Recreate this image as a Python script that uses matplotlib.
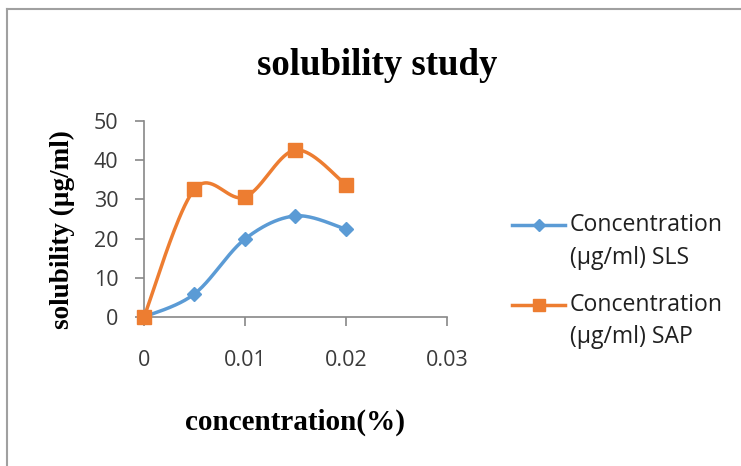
import matplotlib.pyplot as plt
import numpy as np
from matplotlib.lines import Line2D

# data
conc = [0, 0.005, 0.01, 0.015, 0.02]
sls = [0, 5.9, 19.9, 25.8, 22.4]
sap = [0, 32.6, 30.6, 42.6, 33.7]
sls_label = ['Concentration', '(\u00b5g/ml) SLS']
sap_label = ['Concentration', '(\u00b5g/ml) SAP']
xticks = [0, 0.01, 0.02, 0.03]
xticklabels = ['0', '0.01', '0.02', '0.03']
yticks = [0, 10, 20, 30, 40, 50]

BLUE = '#5b9bd5'
ORANGE = '#ed7d31'
TICKFONT = 'Open Sans'


def smooth(x, y, n=40):
    # Excel-style smoothed line: cubic bezier with catmull-rom control points
    x = np.asarray(x, float)
    y = np.asarray(y, float)
    px, py = [], []
    for i in range(len(x) - 1):
        i0, i3 = max(i - 1, 0), min(i + 2, len(x) - 1)
        c1x = x[i] + (x[i + 1] - x[i0]) / 6
        c1y = y[i] + (y[i + 1] - y[i0]) / 6
        c2x = x[i + 1] - (x[i3] - x[i]) / 6
        c2y = y[i + 1] - (y[i3] - y[i]) / 6
        t = np.linspace(0, 1, n)
        b = [(1 - t) ** 3, 3 * (1 - t) ** 2 * t, 3 * (1 - t) * t ** 2, t ** 3]
        px.extend(b[0] * x[i] + b[1] * c1x + b[2] * c2x + b[3] * x[i + 1])
        py.extend(b[0] * y[i] + b[1] * c1y + b[2] * c2y + b[3] * y[i + 1])
    return px, py


fig = plt.figure(figsize=(7.41, 4.66), dpi=100)
ax = fig.add_axes([0.1943, 0.3197, 0.4089, 0.4206])

sx, sy = smooth(conc, sls)
ax.plot(sx, sy, color=BLUE, lw=2.5, solid_capstyle='round', zorder=3, clip_on=False)
ax.plot(conc, sls, 'D', color=BLUE, ms=7, zorder=4, clip_on=False)

ox, oy = smooth(conc, sap)
ax.plot(ox, oy, color=ORANGE, lw=2.5, solid_capstyle='round', zorder=3, clip_on=False)
ax.plot(conc, sap, 's', color=ORANGE, ms=10, zorder=5, clip_on=False)

ax.set_xlim(0, 0.03)
ax.set_ylim(0, 50)
ax.set_xticks(xticks)
ax.set_xticklabels(xticklabels)
ax.set_yticks(yticks)
ax.tick_params(direction='out', length=6.5, width=1.2, color='#888888',
               labelsize=15.5, labelcolor='#3a3a3a')
ax.tick_params(axis='x', pad=17)
ax.tick_params(axis='y', pad=12)
for lab in ax.get_xticklabels() + ax.get_yticklabels():
    lab.set_family([TICKFONT])
for s in ['top', 'right']:
    ax.spines[s].set_visible(False)
for s in ['left', 'bottom']:
    ax.spines[s].set_color('#888888')
    ax.spines[s].set_linewidth(1.2)

fig.text(0.5088, 0.8605, 'solubility study', ha='center', va='center',
         family='Liberation Serif', fontweight='bold', fontsize=26.5)
fig.text(0.398, 0.0944, 'concentration(%)', ha='center', va='center',
         family='Liberation Serif', fontweight='bold', fontsize=21)
fig.text(0.0837, 0.5064, 'solubility (\u00b5g/ml)', ha='center', va='center',
         rotation=90, family='Liberation Serif', fontweight='bold', fontsize=19.5)

# legend, Excel style: handle level with the first text line
for label, color, marker, ms, y1, y2 in [
        (sls_label, BLUE, 'D', 6, 0.5172, 0.4464),
        (sap_label, ORANGE, 's', 8, 0.3455, 0.2768)]:
    fig.add_artist(Line2D([0.691, 0.7625], [y1, y1], color=color, lw=2.5,
                          transform=fig.transFigure))
    fig.add_artist(Line2D([0.7274], [y1], color=color, marker=marker, ms=ms,
                          transform=fig.transFigure))
    for txt, yy in zip(label, [y1, y2]):
        fig.text(0.769, yy, txt, ha='left', va='center', family=TICKFONT,
                 fontsize=16.6, color='#202020')

# outer chart frame (top and left edges visible)
fig.add_artist(Line2D([0.0095, 1], [0.981, 0.981], color='#a0a0a0', lw=1.5,
                      transform=fig.transFigure))
fig.add_artist(Line2D([0.0095, 0.0095], [0, 0.981], color='#a0a0a0', lw=1.5,
                      transform=fig.transFigure))

plt.savefig('out.png', dpi=100, facecolor='white')
